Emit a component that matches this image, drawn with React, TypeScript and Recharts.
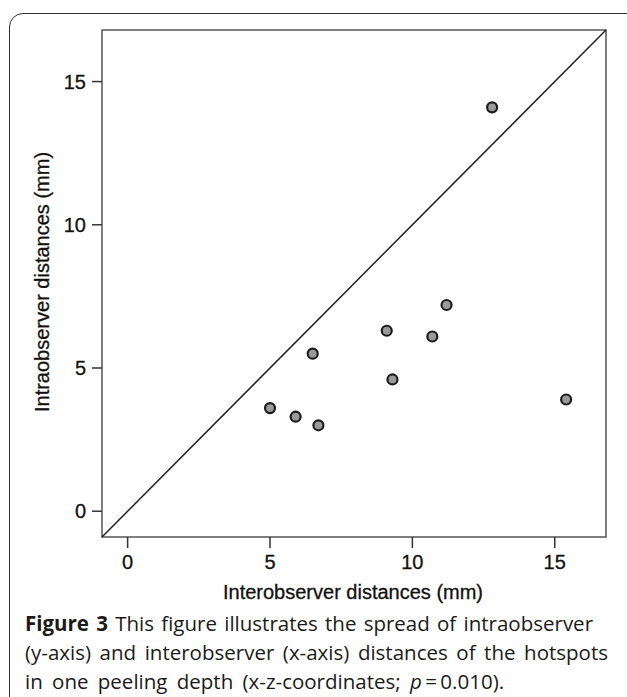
import React from "react";
import {
  ScatterChart,
  Scatter,
  XAxis,
  YAxis,
  ReferenceLine,
  ReferenceArea,
} from "recharts";

// interobserver (x) vs intraobserver (y) distances, mm
const interDist = [6.5, 5.0, 5.9, 6.7, 9.3, 9.1, 11.2, 10.7, 15.4, 12.8];
const intraDist = [5.5, 3.6, 3.3, 3.0, 4.6, 6.3, 7.2, 6.1, 3.9, 14.1];
const ticks = [0, 5, 10, 15];
const axisMin = -0.9;
const axisMax = 16.8;

const captionLines = [
  "This figure illustrates the spread of intraobserver",
  "(y-axis) and interobserver (x-axis) distances of the hotspots",
  "in one peeling depth (x-z-coordinates; ",
];

const points = interDist.map((x, i) => ({ x, y: intraDist[i] }));

const FONT = "'Liberation Sans', Arial, sans-serif";
const CAP_FONT = "'Open Sans', sans-serif";

const Dot = (props: any) => (
  <circle cx={props.cx} cy={props.cy} r={5} fill="#9a9a9a" stroke="#1c1c1c" strokeWidth={2.2} />
);

export default function App() {
  const lineStyle: React.CSSProperties = {
    height: 29,
    whiteSpace: "nowrap",
    textAlign: "justify",
    textAlignLast: "justify",
  };
  return (
    <div
      style={{
        position: "absolute",
        left: 0,
        top: 0,
        width: 627,
        height: 697,
        overflow: "hidden",
        background: "#fff",
      }}
    >
      <div
        style={{
          position: "absolute",
          left: 9,
          top: 13,
          width: 660,
          height: 720,
          border: "1.5px solid #333",
          borderRadius: 14,
        }}
      />
      <div style={{ position: "absolute", left: 0, top: 0 }}>
        <ScatterChart
          width={627}
          height={697}
          margin={{ top: 30, right: 21, bottom: 130, left: 40 }}
        >
          <ReferenceArea
            x1={axisMin}
            x2={axisMax}
            y1={axisMin}
            y2={axisMax}
            fill="none"
            stroke="#555"
            strokeWidth={1.5}
            fillOpacity={0}
          />
          <XAxis
            type="number"
            dataKey="x"
            domain={[axisMin, axisMax]}
            ticks={ticks}
            allowDataOverflow
            height={30}
            tickSize={11}
            tickMargin={7}
            axisLine={false}
            tickLine={{ stroke: "#333", strokeWidth: 1.5 }}
            tick={{ fontFamily: FONT, fontSize: 20, fill: "#111", stroke: "#111", strokeWidth: 0.3 }}
            label={{
              content: () => (
                <text
                  x={353}
                  y={599}
                  textAnchor="middle"
                  fontFamily={FONT}
                  fontSize={20}
                  fill="#111"
                  stroke="#111"
                  strokeWidth={0.3}
                >
                  Interobserver distances (mm)
                </text>
              ),
            }}
          />
          <YAxis
            type="number"
            dataKey="y"
            domain={[axisMin, axisMax]}
            ticks={ticks}
            allowDataOverflow
            width={62}
            tickSize={10}
            tickMargin={6}
            axisLine={false}
            tickLine={{ stroke: "#333", strokeWidth: 1.5 }}
            tick={{ fontFamily: FONT, fontSize: 20, fill: "#111", stroke: "#111", strokeWidth: 0.3 }}
            label={{
              content: () => (
                <text
                  x={49}
                  y={282}
                  textAnchor="middle"
                  transform="rotate(-90 49 282)"
                  fontFamily={FONT}
                  fontSize={20}
                  fill="#111"
                  stroke="#111"
                  strokeWidth={0.3}
                >
                  Intraobserver distances (mm)
                </text>
              ),
            }}
          />
          <ReferenceLine
            segment={[
              { x: axisMin, y: axisMin },
              { x: axisMax, y: axisMax },
            ]}
            stroke="#222"
            strokeWidth={1.5}
          />
          <Scatter data={points} shape={Dot} isAnimationActive={false} />
        </ScatterChart>
      </div>
      <div
        style={{
          position: "absolute",
          left: 25,
          top: 609,
          fontFamily: CAP_FONT,
          fontSize: 20.5,
          lineHeight: "29px",
          color: "#1a1a1a",
        }}
      >
        <div style={{ ...lineStyle, width: 568 }}>
          <b>Figure 3</b> {captionLines[0]}
        </div>
        <div style={{ ...lineStyle, width: 583 }}>{captionLines[1]}</div>
        <div style={{ height: 29, whiteSpace: "nowrap", wordSpacing: 4 }}>
          {captionLines[2]}
          <i>p</i>&thinsp;=&thinsp;0.010).
        </div>
      </div>
    </div>
  );
}
